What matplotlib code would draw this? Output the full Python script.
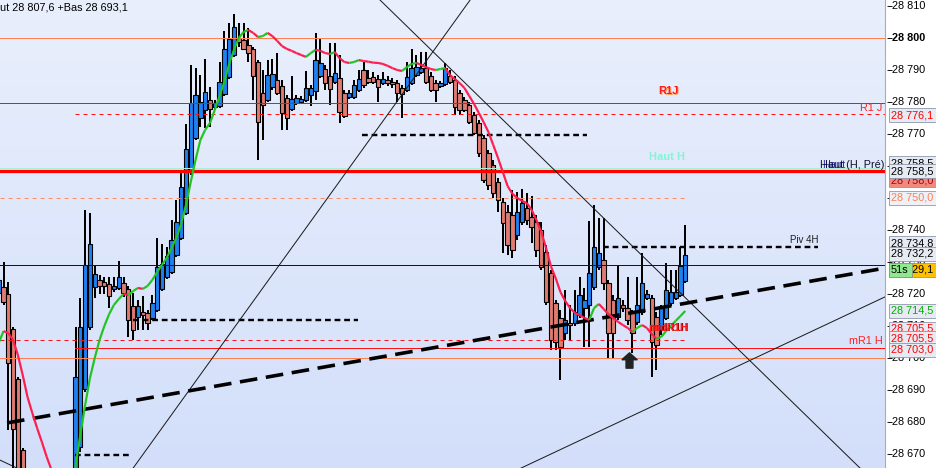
import numpy as np
import matplotlib
matplotlib.use('Agg')
import matplotlib.pyplot as plt
from matplotlib.collections import LineCollection
from matplotlib.patches import Rectangle
from matplotlib.path import Path
from matplotlib import transforms

plt.rcParams['font.family'] = ['Liberation Sans', 'DejaVu Sans']

# ---- bar data (index of the first bar is -1, one bar per step) ----
first_bar = -1
opens = [
    28720.3,
    28722.2, 28720.0, 28709.1, 28693.4, 28671.3,
    28658.7, 28652.0, 28648.0, 28644.0, 28646.0, 28642.0, 28647.0, 28650.0, 28653.0, 28657.0,
    28655.6, 28672.2, 28690.3, 28709.7, 28722.2, 28724.4, 28723.8, 28723.1, 28721.6, 28721.9,
    28723.4, 28721.6, 28716.3, 28712.8, 28714.4, 28714.1, 28712.5, 28715.0, 28721.6, 28725.3,
    28726.9, 28732.2, 28737.5, 28745.3, 28758.1, 28768.7, 28775.0, 28777.5, 28780.6, 28778.4,
    28778.8, 28782.5, 28787.8, 28794.7, 28800.0, 28799.4, 28797.8, 28796.6, 28792.5, 28782.8,
    28780.6, 28784.7, 28786.9, 28785.0, 28781.3, 28777.8, 28779.7, 28780.0, 28780.6, 28782.2,
    28783.4, 28788.1, 28790.3, 28788.1, 28786.3, 28787.5, 28782.8, 28781.6, 28781.6, 28783.8,
    28790.0, 28787.5, 28787.8, 28787.2, 28785.9, 28786.9, 28786.3, 28785.9, 28784.4, 28783.8,
    28785.9, 28788.4, 28789.4, 28790.6, 28788.1, 28785.9, 28785.0, 28785.6, 28788.1, 28786.9,
    28782.8, 28780.6, 28779.1, 28775.9, 28773.4, 28768.7, 28764.1, 28760.3, 28755.0, 28748.7,
    28745.6, 28744.7, 28738.4, 28742.5, 28746.9, 28744.1, 28742.5, 28740.0, 28733.1, 28726.6,
    28717.2, 28712.5, 28707.8, 28710.9, 28710.9, 28713.4, 28715.6, 28716.6, 28722.2, 28728.4,
    28730.6, 28723.4, 28718.1, 28712.8, 28716.6, 28715.6, 28714.1, 28711.3, 28714.4, 28718.8,
    28718.8, 28712.8, 28708.8, 28712.5, 28717.2, 28718.8, 28719.7, 28724.1,
]
highs = [
    28725.9,
    28730.0, 28723.8, 28709.7, 28694.1, 28671.9,
    28662.0, 28655.0, 28652.0, 28650.0, 28651.0, 28649.0, 28654.0, 28656.0, 28660.0, 28662.0,
    28709.7, 28718.8, 28746.3, 28745.3, 28729.1, 28725.9, 28725.3, 28725.3, 28725.3, 28730.3,
    28725.3, 28722.5, 28720.3, 28718.1, 28719.4, 28715.0, 28719.7, 28737.5, 28735.6, 28734.7,
    28743.1, 28749.4, 28758.1, 28773.1, 28791.6, 28790.6, 28788.4, 28793.4, 28784.7, 28780.6,
    28792.5, 28802.2, 28804.7, 28807.6, 28804.7, 28804.7, 28803.1, 28797.2, 28793.1, 28790.0,
    28793.1, 28793.4, 28795.3, 28786.9, 28782.2, 28788.1, 28782.2, 28781.9, 28789.7, 28785.3,
    28801.6, 28799.7, 28791.6, 28798.4, 28798.4, 28794.7, 28783.8, 28783.8, 28786.9, 28790.0,
    28792.5, 28790.0, 28789.4, 28788.4, 28789.4, 28788.1, 28787.5, 28786.9, 28785.3, 28792.5,
    28796.6, 28794.7, 28795.6, 28795.6, 28789.4, 28786.9, 28786.6, 28792.2, 28790.0, 28788.1,
    28783.8, 28781.6, 28780.0, 28776.9, 28774.4, 28769.7, 28765.0, 28761.9, 28756.3, 28750.0,
    28747.8, 28752.5, 28751.9, 28752.8, 28751.6, 28750.6, 28744.7, 28742.5, 28735.3, 28727.5,
    28718.1, 28715.0, 28721.3, 28716.6, 28721.3, 28725.3, 28721.9, 28742.8, 28747.8, 28743.7,
    28743.7, 28724.4, 28719.7, 28728.7, 28718.1, 28725.3, 28715.0, 28725.3, 28732.8, 28721.3,
    28719.7, 28714.4, 28716.6, 28729.7, 28727.5, 28727.5, 28734.7, 28741.6,
]
lows = [
    28719.4,
    28716.6, 28677.5, 28661.9, 28658.7, 28655.6,
    28650.0, 28645.0, 28641.0, 28640.0, 28639.0, 28638.0, 28643.0, 28645.0, 28649.0, 28652.0,
    28654.1, 28670.6, 28689.4, 28708.8, 28718.8, 28720.0, 28720.0, 28715.6, 28720.6, 28721.3,
    28719.1, 28706.6, 28705.6, 28708.8, 28708.8, 28708.8, 28711.9, 28714.4, 28720.9, 28724.7,
    28726.3, 28731.6, 28736.9, 28744.7, 28757.2, 28768.1, 28772.2, 28771.9, 28772.2, 28777.5,
    28778.1, 28781.9, 28787.2, 28794.1, 28797.2, 28796.3, 28792.5, 28780.6, 28761.9, 28768.1,
    28780.0, 28783.8, 28782.2, 28771.3, 28771.3, 28777.2, 28779.1, 28779.4, 28780.0, 28778.8,
    28780.6, 28787.5, 28783.8, 28779.1, 28785.6, 28773.4, 28775.0, 28781.0, 28781.0, 28783.1,
    28784.4, 28785.6, 28785.6, 28780.0, 28785.3, 28785.0, 28784.4, 28780.0, 28775.0, 28783.1,
    28785.3, 28787.8, 28788.8, 28785.6, 28783.1, 28780.0, 28784.4, 28785.0, 28785.6, 28775.9,
    28775.9, 28776.9, 28773.1, 28769.7, 28762.8, 28754.7, 28752.5, 28750.0, 28745.6, 28732.8,
    28732.2, 28731.3, 28736.9, 28741.6, 28741.6, 28735.9, 28731.6, 28727.5, 28716.6, 28702.5,
    28702.5, 28693.1, 28705.6, 28705.6, 28710.0, 28712.5, 28703.4, 28703.4, 28721.3, 28727.5,
    28721.3, 28700.0, 28700.0, 28711.9, 28714.4, 28710.3, 28701.6, 28710.3, 28713.4, 28718.1,
    28694.1, 28696.3, 28707.2, 28711.9, 28716.3, 28718.1, 28719.1, 28723.4,
]
closes = [
    28724.4,
    28717.5, 28698.4, 28677.8, 28661.9, 28658.7,
    28652.0, 28648.0, 28644.0, 28646.0, 28642.0, 28647.0, 28650.0, 28653.0, 28657.0, 28655.0,
    28694.1, 28709.7, 28729.1, 28735.6, 28726.3, 28722.5, 28722.5, 28719.4, 28722.5, 28725.3,
    28720.3, 28711.9, 28708.8, 28716.3, 28713.4, 28710.9, 28717.2, 28728.4, 28729.4, 28731.9,
    28736.9, 28742.5, 28753.4, 28765.3, 28779.7, 28782.2, 28780.0, 28783.1, 28777.8, 28779.7,
    28786.3, 28796.6, 28799.7, 28803.4, 28798.8, 28796.6, 28795.3, 28788.1, 28773.7, 28779.1,
    28788.4, 28788.8, 28782.8, 28776.6, 28775.0, 28781.0, 28781.3, 28781.0, 28784.4, 28784.4,
    28793.1, 28792.2, 28785.9, 28784.1, 28789.1, 28776.9, 28775.6, 28782.8, 28785.3, 28787.2,
    28785.3, 28786.3, 28786.3, 28784.7, 28787.2, 28785.9, 28785.6, 28782.8, 28782.5, 28787.8,
    28790.6, 28790.9, 28790.6, 28786.3, 28783.8, 28783.8, 28785.9, 28790.6, 28786.3, 28778.4,
    28777.5, 28777.5, 28773.7, 28770.3, 28764.1, 28755.6, 28754.1, 28751.6, 28749.4, 28742.2,
    28735.3, 28733.7, 28745.6, 28748.4, 28743.1, 28740.9, 28733.7, 28728.4, 28717.5, 28705.6,
    28705.0, 28703.4, 28711.9, 28710.3, 28714.4, 28719.7, 28718.1, 28726.6, 28734.7, 28732.8,
    28723.4, 28707.8, 28707.8, 28718.8, 28715.6, 28711.9, 28707.8, 28716.6, 28723.4, 28720.0,
    28705.0, 28704.1, 28715.6, 28721.3, 28720.6, 28720.6, 28728.7, 28732.2,
]
# moving average drawn green when rising, red when falling
ma_values = [
    28704.7,
    28708.4, 28707.8, 28705.6, 28700.9, 28694.7,
    28687.8, 28682.8, 28678.1, 28673.7, 28669.1, 28665.0, 28661.9, 28659.4, 28658.1, 28660.3,
    28666.3, 28676.0, 28685.3, 28693.7, 28700.0, 28705.6, 28710.0, 28713.7, 28716.6, 28718.4,
    28720.0, 28719.7, 28720.9, 28721.9, 28721.6, 28722.5, 28724.4, 28726.9, 28729.1, 28731.3,
    28734.4, 28737.5, 28741.9, 28747.8, 28755.0, 28761.9, 28768.1, 28771.3, 28773.4, 28777.5,
    28781.9, 28786.3, 28791.9, 28796.3, 28800.0, 28801.9, 28802.5, 28801.6, 28800.3, 28800.6,
    28801.6, 28800.6, 28799.1, 28797.5, 28796.6, 28796.0, 28795.3, 28794.7, 28794.1, 28795.3,
    28796.3, 28796.0, 28795.3, 28795.0, 28795.6, 28793.7, 28792.5, 28792.2, 28792.5, 28793.1,
    28792.8, 28792.6, 28792.3, 28792.2, 28791.9, 28791.3, 28790.6, 28790.0, 28789.7, 28790.9,
    28791.9, 28792.2, 28791.6, 28790.9, 28790.3, 28790.0, 28790.3, 28790.6, 28788.4, 28787.2,
    28785.9, 28784.4, 28781.9, 28779.4, 28776.6, 28773.7, 28770.6, 28766.6, 28762.5, 28758.1,
    28753.7, 28751.3, 28750.0, 28749.1, 28748.4, 28746.3, 28743.1, 28739.4, 28734.4, 28728.7,
    28725.0, 28720.6, 28717.8, 28715.6, 28714.1, 28713.4, 28712.5, 28711.9, 28715.6, 28716.9,
    28715.3, 28713.7, 28712.5, 28711.3, 28710.3, 28709.4, 28708.1, 28709.4, 28710.3, 28709.4,
    28707.5, 28706.0, 28706.6, 28708.4, 28710.0, 28711.6, 28713.1, 28714.7,
]

tick_prices = [28670, 28680, 28690, 28700, 28710, 28720, 28730, 28740,
               28750, 28760, 28770, 28780, 28790, 28800, 28810]

# horizontal levels: price, first bar, last bar (None = edge), colour, width px, dashed
levels = [
    (28800.0, None, None, '#ff7f4f', 1.0, False),
    (28779.7, None, None, '#ff1010', 1.0, False),
    (28776.1, 14.9, None, '#ff1010', 1.0, True),
    (28759.3, None, None, '#a8f0d8', 1.0, False),
    (28758.5, None, None, '#ff0000', 3.2, False),
    (28750.0, None, 142.4, '#ff8c5a', 1.0, True),
    (28729.1, None, None, '#0000c8', 1.0, False),
    (28705.5, None, 142.2, '#ff1010', 1.0, True),
    (28703.0, 14.9, None, '#ff1010', 1.0, False),
    (28700.0, None, None, '#ff7f4f', 1.0, False),
]
# black dashed pivot segments: price, first bar, last bar
pivot_segments = [
    (28769.7, 74.7, 121.6),
    (28734.8, 124.9, 169.7),
    (28711.9, 27.0, 73.9),
    (28669.7, 14.9, 26.4),
]
# thin drawn lines (bar, price) -> (bar, price)
drawn_lines = [
    ((27.0, 28665.6), (97.2, 28811.9)),
    ((78.4, 28811.9), (178.4, 28665.6)),
    ((107.8, 28665.6), (183.6, 28719.1)),
    ((-3.0, 28669.7), (2.8, 28665.6)),
]
trend_line = ((0.73, 28679.7), (183.6, 28728.1))

# value boxes on the price scale: price, text, text colour, fill
value_boxes = [
    (28775.9, '28 776,1', '#ff0000', '#e6eaf2'),
    (28760.9, '28 758,5', '#000000', '#e6eaf2'),
    (28755.6, '28 758,0', '#b00000', '#ee8a80'),
    (28758.4, '28 758,5', '#000000', '#e6eaf2'),
    (28750.0, '28 750,0', '#ff7f4f', '#eef1f7'),
    (28735.9, '28 734,8', '#000000', '#e6eaf2'),
    (28732.5, '28 732,2', '#000000', '#e6eaf2'),
    (28727.5, '28 729,1', '#000000', '#ffc000'),
    (28714.7, '28 714,5', '#00b000', '#e6eaf2'),
    (28709.1, '28 705,5', '#ff0000', '#e6eaf2'),
    (28706.2, '28 705,5', '#ff0000', '#e6eaf2'),
    (28702.5, '28 703,0', '#ff0000', '#e6eaf2'),
]
timer_text = '51s'
header_text = 'Haut 28 807,6 +Bas 28 693,1'

XMIN, XMAX = -0.73, 183.6
YMIN, YMAX = 28665.625, 28811.875
PX = 0.72  # points per pixel at 100 dpi
FS = 7.8

bars = np.arange(len(opens)) + first_bar
o = np.array(opens); h = np.array(highs); l = np.array(lows); c = np.array(closes)
ma = np.array(ma_values)

fig = plt.figure(figsize=(9.37, 4.68), dpi=100)
ax = fig.add_axes([0, 0, 885 / 937, 1])

# background gradient
grad = np.linspace(0, 1, 256)[:, None]
top = np.array([233, 239, 252]) / 255
bot = np.array([211, 223, 250]) / 255
img = top[None, None, :] * (1 - grad[:, :, None]) + bot[None, None, :] * grad[:, :, None]
ax.imshow(img, extent=[XMIN, XMAX, YMIN, YMAX], aspect='auto', zorder=0)

# candles
up = c >= o
ax.vlines(bars, l, h, color='black', lw=2.0 * PX, zorder=2)
ax.bar(bars, np.abs(c - o), bottom=np.minimum(o, c), width=0.9,
       color=np.where(up, '#1f80f0', '#e07b70'), edgecolor='black',
       linewidth=1.1 * PX, zorder=3)

# levels
for price, b0, b1, col, lw, dashed in levels:
    x0 = XMIN if b0 is None else b0
    x1 = XMAX if b1 is None else b1
    line, = ax.plot([x0, x1], [price, price], color=col, lw=lw * PX, zorder=4)
    if dashed:
        line.set_dashes((4, 4))

for price, b0, b1 in pivot_segments:
    line, = ax.plot([b0, b1], [price, price], color='black', lw=2.4 * PX, zorder=5)
    line.set_dashes((2.4, 1.6))

for (x0, y0), (x1, y1) in drawn_lines:
    ax.plot([x0, x1], [y0, y1], color='#1a1a1a', lw=1.0 * PX, zorder=5)

(tx0, ty0), (tx1, ty1) = trend_line
line, = ax.plot([tx0, tx1], [ty0, ty1], color='black', lw=3.6 * PX, zorder=6)
line.set_dashes((4.9, 2.4))

# moving average, coloured by direction
pts = np.column_stack([bars, ma])
segs = np.stack([pts[:-1], pts[1:]], axis=1)
seg_cols = np.where(np.diff(ma) > 0, '#22c422', '#ff1e4e')
ax.add_collection(LineCollection(segs, colors=seg_cols, linewidths=2.2 * PX, zorder=7))

# arrow marker
arrow = Path([(-1, 0.1), (0, 1), (1, 0.1), (0.45, 0.1), (0.45, -1), (-0.45, -1), (-0.45, 0.1), (-1, 0.1)])
ax.plot([130.3], [28699.4], marker=arrow, ms=11, color='#222222', mec='#222222', zorder=8, ls='none')

# labels inside the chart
def shifted(dx, dy):
    return transforms.offset_copy(ax.transData, fig=fig, x=dx, y=dy, units='dots')

ax.text(138.4, 28783.4, 'R1J', color='#ffa060', fontsize=8, fontweight='bold',
        ha='center', va='center', transform=shifted(1, -1), zorder=9)
ax.text(138.4, 28783.4, 'R1J', color='#ff1a1a', fontsize=8, fontweight='bold',
        ha='center', va='center', zorder=9)
ax.text(183.0, 28778.1, 'R1 J', color='#ff2020', fontsize=FS, ha='right', va='center', zorder=9)
ax.text(138.2, 28762.8, 'Haut H', color='#86f2d6', fontsize=8, fontweight='bold',
        ha='center', va='center', zorder=9)
ax.text(183.4, 28760.4, 'Haut (H, Pré)', color='#101030', fontsize=FS, ha='right', va='center', zorder=9)
ax.text(171.0, 28760.4, 'Haut', color='#000080', fontsize=FS, ha='left', va='center',
        transform=shifted(-2, 0), zorder=9, alpha=0.8)
ax.text(163.9, 28736.9, 'Piv 4H', color='#202020', fontsize=7, ha='left', va='center', zorder=9)
ax.text(183.2, 28705.3, 'mR1 H', color='#ff2020', fontsize=FS, ha='right', va='center', zorder=9)
ax.text(134.3, 28709.4, 'midR1H', color='#b00000', fontsize=7.5, fontweight='bold',
        ha='left', va='center', transform=shifted(1, 0), zorder=9)
ax.text(134.3, 28709.4, 'midR1H', color='#ff2020', fontsize=7.5, fontweight='bold',
        ha='left', va='center', zorder=9)
ax.text(-14 / 885, 1 - 10 / 468, header_text, transform=ax.transAxes, fontsize=FS,
        va='baseline', ha='left', clip_on=True, zorder=9)

ax.set_xlim(XMIN, XMAX)
ax.set_ylim(YMIN, YMAX)
ax.axis('off')

# price scale on the right
axr = fig.add_axes([885 / 937, 0, 52 / 937, 1])
axr.set_xlim(0, 52)
axr.set_ylim(YMIN, YMAX)
axr.set_facecolor('white')
for side in ['top', 'right', 'bottom']:
    axr.spines[side].set_visible(False)
axr.spines['left'].set_color('#a4acc0')
axr.set_xticks([])
axr.set_yticks([])

axr.hlines(tick_prices, 2.5, 7, color='black', lw=0.9 * PX, zorder=1)
for p in tick_prices:
    axr.text(7.5, p, f'{p:,}'.replace(',', ' '), fontsize=FS, va='center', ha='left',
             fontweight='bold' if p == 28800 else 'normal', zorder=2)

# later boxes sit on top of earlier ones
box_h = 4.4
z = 10
for p, txt, tcol, fill in value_boxes:
    axr.add_patch(Rectangle((4, p - box_h / 2), 60, box_h, facecolor=fill,
                            edgecolor='#8a93a8', lw=0.8 * PX, zorder=z))
    axr.text(6.5, p, txt, color=tcol, fontsize=FS, va='center', ha='left', zorder=z + 1)
    if txt == '28 729,1':
        axr.add_patch(Rectangle((4, p - box_h / 2), 23, box_h, facecolor='#8fe88f',
                                edgecolor='#7a9a7a', lw=0.8 * PX, zorder=z + 2))
        axr.text(6, p, timer_text, color='#000000', fontsize=FS, va='center', ha='left',
                 zorder=z + 3)
    z += 4

fig.savefig('out.png', dpi=100)
